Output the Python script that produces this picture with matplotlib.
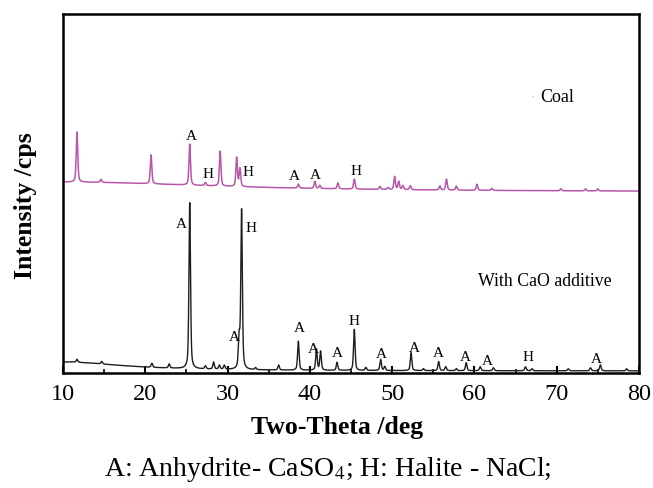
import numpy as np
import matplotlib
matplotlib.use("Agg")
import matplotlib.pyplot as plt
from matplotlib.ticker import MultipleLocator

plt.rcParams['font.family'] = ['Liberation Serif', 'DejaVu Serif']
plt.rcParams['mathtext.fontset'] = 'stix'

# XRD peak lists: 2-theta position (deg) and peak height (cps, arbitrary scale)
coal_pos = [11.7, 14.6, 20.7, 25.4, 27.3, 29.1, 31.1, 31.5, 38.6, 40.6, 41.2,
            43.4, 45.4, 48.5, 49.5, 50.3, 50.8, 51.3, 52.2, 55.8, 56.6, 57.8,
            60.3, 62.1, 70.5, 73.5, 75.0]
coal_hgt = [50, 3, 29, 41, 3, 35, 29, 18, 4, 7, 3,
            6, 10, 3, 2, 13, 8, 4, 4, 4, 11, 4,
            6, 2, 2, 2, 2]

cao_pos = [11.7, 14.7, 20.8, 22.9, 25.4, 27.3, 28.3, 29.0, 29.6, 31.4, 31.7,
           33.4, 36.2, 38.6, 40.8, 41.3, 43.3, 45.4, 46.8, 48.6, 49.1, 52.3,
           53.8, 55.65, 56.5, 57.8, 59.0, 60.7, 62.3, 66.2, 67.0, 71.4, 74.1,
           75.3, 78.5]
cao_hgt = [3, 2.5, 4, 4, 166, 3, 7, 4, 4, 30, 159,
           2, 5, 29, 21, 19, 8, 41, 3, 11, 4, 18,
           2, 9, 4, 2, 8, 4, 3, 4, 2, 2, 3,
           6, 2]

# low-angle background hump (position, height, half width) and flat level
coal_bg = (10.0, 10.0, 22.9)
coal_level = 181.0
cao_bg = (10.0, 9.0, 8.9)
cao_level = 2.0

# phase labels: (2-theta, y, text)
coal_labels = [(25.64, 238, 'A'), (27.58, 200, 'H'), (32.52, 202, 'H'),
               (38.1, 198, 'A'), (40.66, 199, 'A'), (45.6, 203, 'H')]
cao_labels = [(24.4, 149, 'A'), (32.9, 145, 'H'), (30.8, 36, 'A'),
              (38.7, 45, 'A'), (40.4, 24, 'A'), (43.3, 20, 'A'),
              (45.4, 52, 'H'), (48.64, 19, 'A'), (52.65, 25, 'A'),
              (55.65, 20, 'A'), (58.93, 16, 'A'), (61.6, 12, 'A'),
              (66.55, 16, 'H'), (74.85, 14, 'A')]

fwhm = 0.22


def pattern(tt, pos, hgt, bg, level):
    y = np.full_like(tt, level)
    c, h, g = bg
    y += h / (1 + ((tt - c) / g) ** 2)
    for p, a in zip(pos, hgt):
        lor = 1 / (1 + ((tt - p) / (fwhm / 2)) ** 2)
        gau = np.exp(-4 * np.log(2) * ((tt - p) / fwhm) ** 2)
        y += a * (0.5 * lor + 0.5 * gau)
    return y


tt = np.linspace(10, 80, 7001)
coal = pattern(tt, coal_pos, coal_hgt, coal_bg, coal_level)
cao = pattern(tt, cao_pos, cao_hgt, cao_bg, cao_level)

fig = plt.figure(figsize=(6.53, 4.89), dpi=100)
ax = fig.add_axes([0.0965, 0.2352, 0.8821, 0.7341])

ax.plot(tt, coal, color='#b856a8', lw=1.1)
ax.plot(tt, cao, color='#1e1e1e', lw=1.0)

for x, y, s in coal_labels:
    ax.text(x, y, s, ha='center', va='center', fontsize=11)
for x, y, s in cao_labels:
    ax.text(x, y, s, ha='center', va='center', fontsize=11)

ax.text(67.1, 277, '·', ha='center', va='center', fontsize=8, color='#aaaaaa')
ax.text(67.96, 277, 'Coal', ha='left', va='center', fontsize=13)
ax.text(60.43, 92, 'With CaO additive', ha='left', va='center', fontsize=12.8)

ax.set_xlim(10, 80)
ax.set_ylim(0, 359)
ax.xaxis.set_major_locator(MultipleLocator(10))
ax.xaxis.set_minor_locator(MultipleLocator(5))
ax.set_yticks([])
ax.tick_params(axis='x', which='major', direction='in', length=5, width=1.5,
               labelsize=17.5, pad=7)
ax.tick_params(axis='x', which='minor', direction='in', length=3, width=1.2)
for sp in ax.spines.values():
    sp.set_linewidth(1.8)

ax.set_xlabel('Two-Theta /deg', fontsize=18.5, fontweight='bold')
ax.xaxis.set_label_coords(0.476, -0.118)
ax.set_ylabel('Intensity /cps', fontsize=18.5, fontweight='bold')
ax.yaxis.set_label_coords(-0.045, 0.47)

fig.text(0.5015, 0.039, r'A: Anhydrite- CaSO$_4$; H: Halite - NaCl;',
         ha='center', va='center', fontsize=20)

fig.savefig('out.png', dpi=100)
